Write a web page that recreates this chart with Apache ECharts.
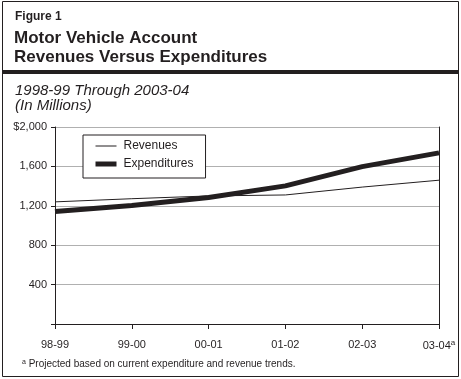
<!DOCTYPE html>
<html><head><meta charset="utf-8">
<script src="https://cdn.jsdelivr.net/npm/echarts@6/dist/echarts.min.js"></script>
<style>html,body{margin:0;padding:0;background:#fff}#c{width:461px;height:379px}</style>
</head><body><div id="c"></div>
<script>
const categories = ['98-99', '99-00', '00-01', '01-02', '02-03', '03-04'];
const revenues = [1240, 1272, 1300, 1310, 1390, 1460];
const expenditures = [1142, 1203, 1284, 1402, 1598, 1737];
const yTicks = { min: 0, max: 2000, interval: 400 };
const font = "'Liberation Sans', Arial, sans-serif";
const ink = '#231f20';

const chart = echarts.init(document.getElementById('c'), null, { renderer: 'canvas' });
chart.setOption({
  animation: false,
  textStyle: { fontFamily: font, color: ink },
  title: [
    { text: 'Figure 1', left: 10, top: 6, textStyle: { fontFamily: font, fontSize: 12, fontWeight: 'bold', color: ink } },
    { text: 'Motor Vehicle Account\nRevenues Versus Expenditures', left: 9, top: 24,
      textStyle: { fontFamily: font, fontSize: 17, fontWeight: 'bold', color: ink, lineHeight: 19 } },
    { text: '1998-99 Through 2003-04\n(In Millions)', left: 10, top: 78,
      textStyle: { fontFamily: font, fontSize: 15, fontStyle: 'italic', fontWeight: 'normal', color: ink, lineHeight: 15 } },
    { text: '{s|a} Projected based on current expenditure and revenue trends.', left: 17, top: 354,
      textStyle: { fontFamily: font, fontSize: 10, fontWeight: 'normal', color: ink,
        rich: { s: { fontSize: 7, verticalAlign: 'top', padding: [0, 0, 4, 0], fontFamily: font, color: ink } } } }
  ],
  graphic: [
    { type: 'rect', shape: { x: 2.5, y: 1.5, width: 456, height: 375 }, style: { fill: 'none', stroke: ink, lineWidth: 1 } },
    { type: 'rect', shape: { x: 2, y: 70, width: 457, height: 4 }, style: { fill: ink } }
  ],
  legend: {
    left: 83, top: 135, orient: 'vertical',
    padding: [5, 12, 8, 10], itemGap: 6, itemWidth: 21, itemHeight: 14,
    borderColor: ink, borderWidth: 1, backgroundColor: '#fff',
    itemStyle: { color: 'rgba(0,0,0,0)', borderColor: 'rgba(0,0,0,0)', borderWidth: 0 },
    lineStyle: { width: 'inherit', color: 'inherit' },
    formatter: name => '{t|' + name + '}',
    textStyle: { fontFamily: font, fontSize: 12, color: ink, padding: [0, 0, 0, 2],
      rich: { t: { fontFamily: font, fontSize: 12, color: ink, opacity: 1 } } },
    data: ['Revenues', 'Expenditures']
  },
  grid: { left: 55, top: 127, right: 22, bottom: 55 },
  xAxis: [
    { type: 'category', data: categories, boundaryGap: false,
      axisLine: { lineStyle: { color: ink, width: 1 } },
      axisTick: { show: true, length: 5, lineStyle: { color: ink } },
      axisLabel: { margin: 15, fontSize: 11, color: ink, fontFamily: font,
        formatter: v => v === '03-04' ? v + '{s|a}' : v,
        rich: { s: { fontSize: 8, verticalAlign: 'top', padding: [0, 0, 5, 0], color: ink, fontFamily: font } } },
      splitLine: { show: false } },
    { type: 'category', data: categories, boundaryGap: false, position: 'top',
      axisLine: { lineStyle: { color: ink, width: 1 } }, axisTick: { show: false }, axisLabel: { show: false } }
  ],
  yAxis: [
    { type: 'value', min: yTicks.min, max: yTicks.max, interval: yTicks.interval,
      axisLine: { show: true, lineStyle: { color: ink } },
      axisTick: { show: true, length: 4, lineStyle: { color: ink } },
      axisLabel: { margin: 8, fontSize: 11, color: ink, fontFamily: font,
        formatter: v => v === 0 ? '' : (v === 2000 ? '$2,000' : v.toLocaleString('en-US')) },
      splitLine: { show: true, lineStyle: { color: '#b0b0b0', width: 1 } } },
    { type: 'value', min: yTicks.min, max: yTicks.max, interval: yTicks.interval, position: 'right',
      axisLine: { show: true, lineStyle: { color: ink } }, axisTick: { show: false }, axisLabel: { show: false }, splitLine: { show: false } }
  ],
  series: [
    { name: 'Revenues', type: 'line', data: revenues, symbol: 'none', lineStyle: { color: ink, width: 1 }, itemStyle: { color: ink }, z: 3 },
    { name: 'Expenditures', type: 'line', data: expenditures, symbol: 'none', lineStyle: { color: ink, width: 5 }, itemStyle: { color: ink }, z: 4 }
  ]
});
</script></body></html>
